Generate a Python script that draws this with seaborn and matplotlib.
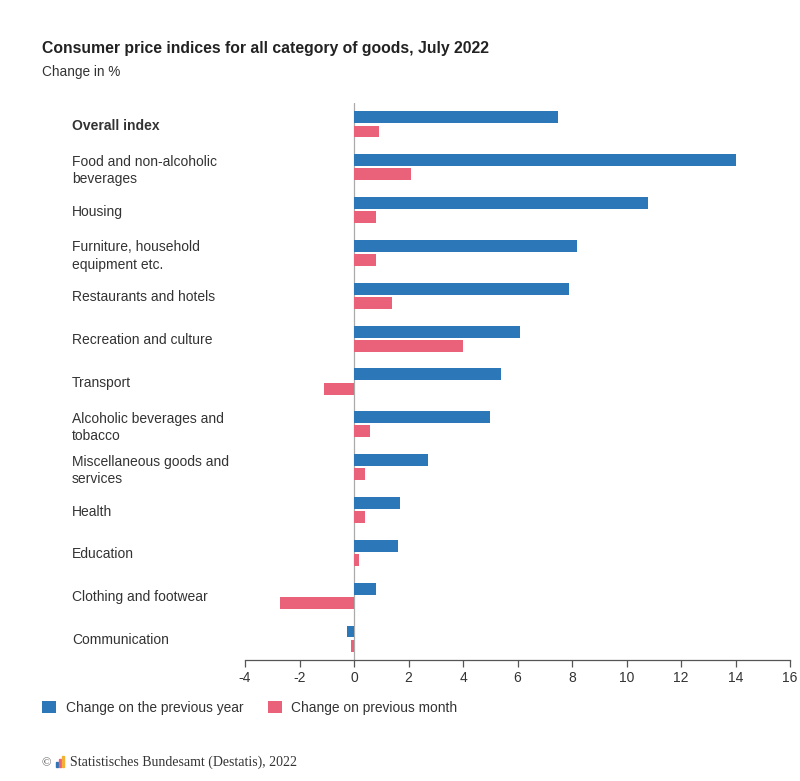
import numpy as np
import pandas as pd
import matplotlib
matplotlib.use("Agg")
import matplotlib.pyplot as plt
from matplotlib.patches import Patch, Rectangle
import seaborn as sns

sns.set_style("white")
plt.rcParams['font.family'] = ['Liberation Sans', 'DejaVu Sans']
plt.rcParams['axes.unicode_minus'] = False

# Data
categories = [
    "Overall index",
    "Food and non-alcoholic\nbeverages",
    "Housing",
    "Furniture, household\nequipment etc.",
    "Restaurants and hotels",
    "Recreation and culture",
    "Transport",
    "Alcoholic beverages and\ntobacco",
    "Miscellaneous goods and\nservices",
    "Health",
    "Education",
    "Clothing and footwear",
    "Communication",
]
prev_year = [7.5, 14.0, 10.8, 8.2, 7.9, 6.1, 5.4, 5.0, 2.7, 1.7, 1.6, 0.8, -0.25]
prev_month = [0.9, 2.1, 0.8, 0.8, 1.4, 4.0, -1.1, 0.6, 0.4, 0.4, 0.2, -2.7, -0.1]
series_names = ["Change on the previous year", "Change on previous month"]
colors = ["#2B77B7", "#E9627A"]

df = pd.DataFrame({
    "Category": categories * 2,
    "Value": prev_year + prev_month,
    "Series": [series_names[0]] * len(categories) + [series_names[1]] * len(categories),
})

fig = plt.figure(figsize=(8, 7.81), dpi=100)
ax = fig.add_axes([245 / 800, 1 - 660 / 781, (790 - 245) / 800, (660 - 103) / 781])

sns.barplot(data=df, y="Category", x="Value", hue="Series", palette=colors,
            orient="h", width=0.66, gap=0.16, ax=ax, legend=False,
            saturation=1, linewidth=0)

ax.set_xlim(-4, 16)
ax.set_ylim(12.5, -0.5)
ax.set_xticks(np.arange(-4, 17, 2))
ax.set_xlabel("")
ax.set_ylabel("")
ax.axvline(0, color="#aaaaaa", lw=0.9, zorder=0)

for s in ["top", "right", "left"]:
    ax.spines[s].set_visible(False)
ax.spines["bottom"].set_color("#555555")
ax.spines["bottom"].set_linewidth(0.9)
ax.tick_params(axis="x", bottom=True, length=5, width=0.9, color="#555555",
               labelsize=10, labelcolor="#333333", pad=3)
ax.tick_params(axis="y", left=False, length=0, pad=173 * 72 / 100, labelsize=10,
               labelcolor="#333333")
for lab in ax.get_yticklabels():
    lab.set_horizontalalignment("left")
    lab.set_linespacing(1.3)
    if lab.get_text() == "Overall index":
        lab.set_fontweight("bold")

fig.text(42 / 800, 1 - 48 / 781, "Consumer price indices for all category of goods, July 2022",
         fontsize=11.3, fontweight="bold", color="#222222", va="center")
fig.text(42 / 800, 1 - 72 / 781, "Change in %", fontsize=9.8, color="#333333", va="center")

handles = [Patch(facecolor=c, edgecolor="none", label=n) for c, n in zip(colors, series_names)]
fig.legend(handles=handles, loc="center left", bbox_to_anchor=(30 / 800, 1 - 708 / 781),
           ncol=2, frameon=False, fontsize=9.9, handlelength=1.0, handleheight=1.0,
           columnspacing=1.8, handletextpad=0.7, labelcolor="#333333")

# footer with small logo
fig.text(41 / 800, 1 - 763 / 781, "\u00a9", fontsize=9, family="Liberation Serif",
         color="#444444", va="center")
for i, (h, c) in enumerate([(0.6, "#2B77B7"), (0.9, "#E9627A"), (1.2, "#F2B134")]):
    fig.patches.append(Rectangle(((56 + i * 3) / 800, 1 - 767 / 781), 2.2 / 800, h * 9 / 781,
                                 transform=fig.transFigure, color=c))
fig.text(70 / 800, 1 - 762 / 781, "Statistisches Bundesamt (Destatis), 2022", fontsize=10,
         family="Liberation Serif", color="#333333", va="center")

fig.savefig("out.png", dpi=100, facecolor="white")
